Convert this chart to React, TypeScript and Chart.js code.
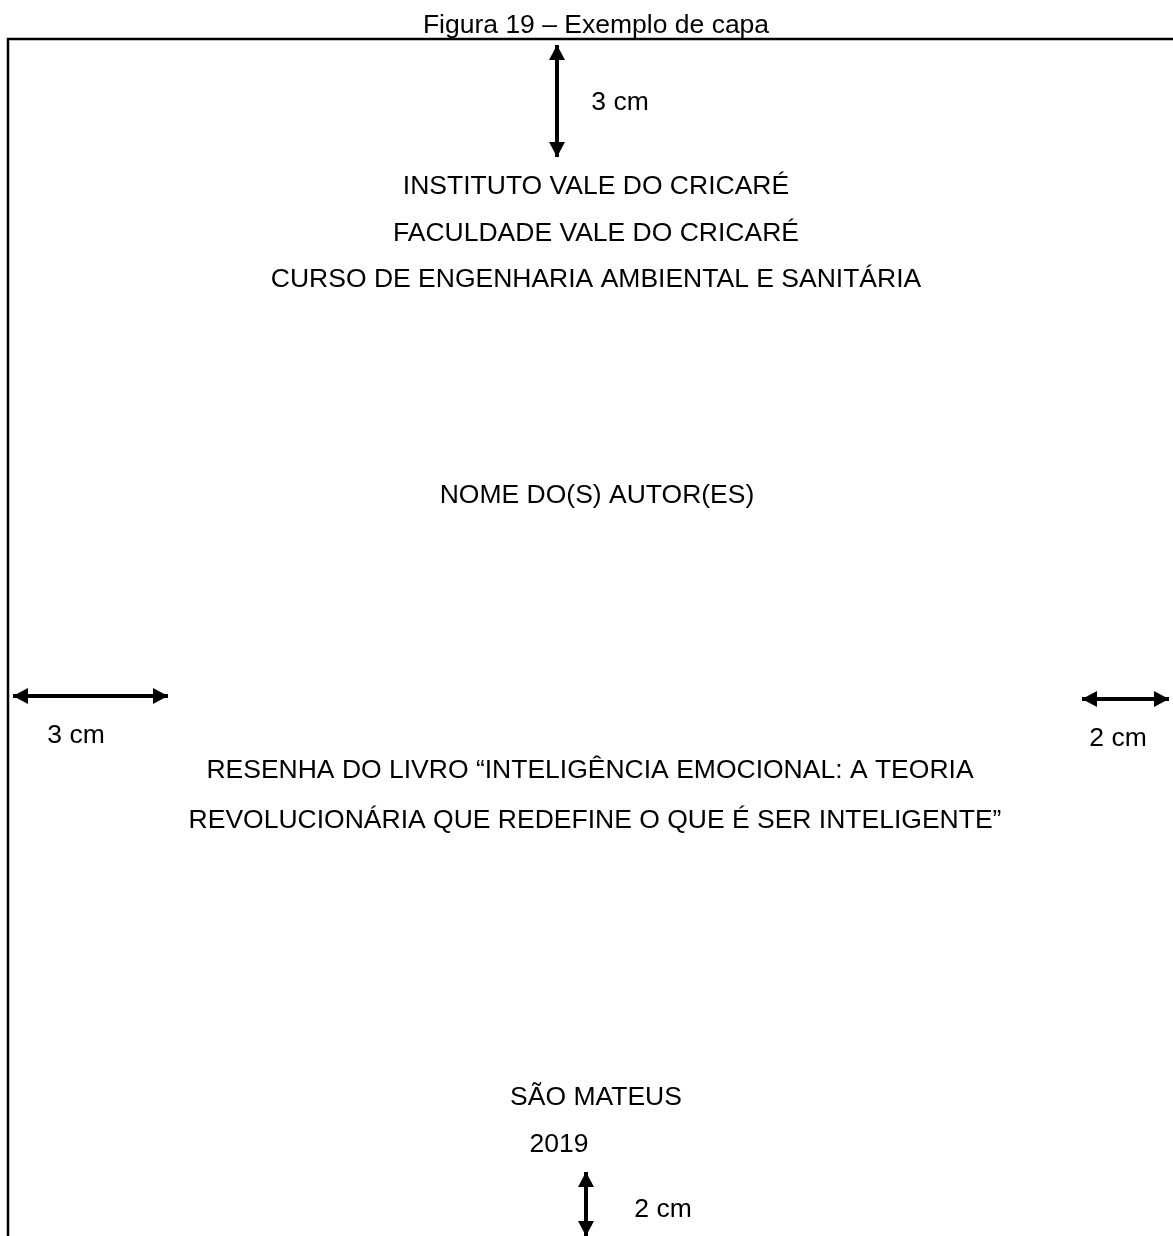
import { useEffect, useRef } from "react";
import Chart from "chart.js/auto";

// page extent, in reference pixels
const pageWidth = 1173;
const pageHeight = 1236;

// centred text lines of the cover
const textLines = [
  "Figura 19 – Exemplo de capa",
  "INSTITUTO VALE DO CRICARÉ",
  "FACULDADE VALE DO CRICARÉ",
  "CURSO DE ENGENHARIA AMBIENTAL E SANITÁRIA",
  "NOME DO(S) AUTOR(ES)",
  "RESENHA DO LIVRO “INTELIGÊNCIA EMOCIONAL: A TEORIA",
  "REVOLUCIONÁRIA QUE REDEFINE O QUE É SER INTELIGENTE”",
  "SÃO MATEUS",
  "2019",
];
const textX = [596, 596, 596, 596, 597, 590, 595, 596, 559];
const textY = [33, 194, 241, 287, 503, 778, 828, 1105, 1152];

// margin arrows (top, left, right, bottom)
const marginLabels = ["3 cm", "3 cm", "2 cm", "2 cm"];
const arrowX1 = [557, 13, 1082, 586];
const arrowY1 = [45, 696, 699, 1172];
const arrowX2 = [557, 168, 1169, 586];
const arrowY2 = [157, 696, 699, 1236];
const marginLabelX = [620, 76, 1118, 663];
const marginLabelY = [110, 743, 746, 1217];

// page frame: left and top edges
const frameX = [8, 8, pageWidth];
const frameY = [pageHeight, 39, 39];

const FONT = '26.5px "Liberation Sans", Arial, Helvetica, sans-serif';

function drawHead(ctx: CanvasRenderingContext2D, tx: number, ty: number, fx: number, fy: number) {
  const a = Math.atan2(ty - fy, tx - fx);
  const len = 15;
  const half = 8;
  const bx = tx - len * Math.cos(a);
  const by = ty - len * Math.sin(a);
  ctx.beginPath();
  ctx.moveTo(tx, ty);
  ctx.lineTo(bx + half * Math.sin(a), by - half * Math.cos(a));
  ctx.lineTo(bx - half * Math.sin(a), by + half * Math.cos(a));
  ctx.closePath();
  ctx.fill();
}

const pagePlugin = {
  id: "pageText",
  afterDatasetsDraw(chart: any) {
    const { ctx, scales } = chart;
    const sx = scales.x;
    const sy = scales.y;
    ctx.save();
    ctx.fillStyle = "#000";
    ctx.font = FONT;
    ctx.textAlign = "center";
    ctx.textBaseline = "alphabetic";
    textLines.forEach((t, i) => {
      ctx.fillText(t, sx.getPixelForValue(textX[i]), sy.getPixelForValue(textY[i]));
    });
    marginLabels.forEach((t, i) => {
      ctx.fillText(t, sx.getPixelForValue(marginLabelX[i]), sy.getPixelForValue(marginLabelY[i]));
    });
    arrowX1.forEach((_, i) => {
      const x1 = sx.getPixelForValue(arrowX1[i]);
      const y1 = sy.getPixelForValue(arrowY1[i]);
      const x2 = sx.getPixelForValue(arrowX2[i]);
      const y2 = sy.getPixelForValue(arrowY2[i]);
      drawHead(ctx, x1, y1, x2, y2);
      drawHead(ctx, x2, y2, x1, y1);
    });
    ctx.restore();
  },
};

export default function App() {
  const canvasRef = useRef<HTMLCanvasElement>(null);

  useEffect(() => {
    if (!canvasRef.current) return;

    const datasets: any[] = [
      {
        label: "frame",
        data: frameX.map((x, i) => ({ x, y: frameY[i] })),
        borderColor: "#000",
        borderWidth: 2.5,
      },
      ...arrowX1.map((_, i) => ({
        label: marginLabels[i],
        data: [
          { x: arrowX1[i], y: arrowY1[i] },
          { x: arrowX2[i], y: arrowY2[i] },
        ],
        borderColor: "#000",
        borderWidth: 4,
      })),
    ].map((d) => ({ ...d, showLine: true, pointRadius: 0, fill: false, tension: 0, clip: false }));

    const chart = new Chart(canvasRef.current, {
      type: "scatter",
      data: { datasets },
      options: {
        responsive: false,
        animation: false,
        events: [],
        layout: { padding: 0 },
        plugins: {
          legend: { display: false },
          tooltip: { enabled: false },
        },
        scales: {
          x: { type: "linear", min: 0, max: pageWidth, display: false },
          y: { type: "linear", min: 0, max: pageHeight, reverse: true, display: false },
        },
      },
      plugins: [pagePlugin],
    });

    return () => chart.destroy();
  }, []);

  return (
    <div style={{ position: "absolute", left: 0, top: 0, width: pageWidth, height: pageHeight, background: "#fff" }}>
      <canvas ref={canvasRef} width={pageWidth} height={pageHeight}></canvas>
    </div>
  );
}
